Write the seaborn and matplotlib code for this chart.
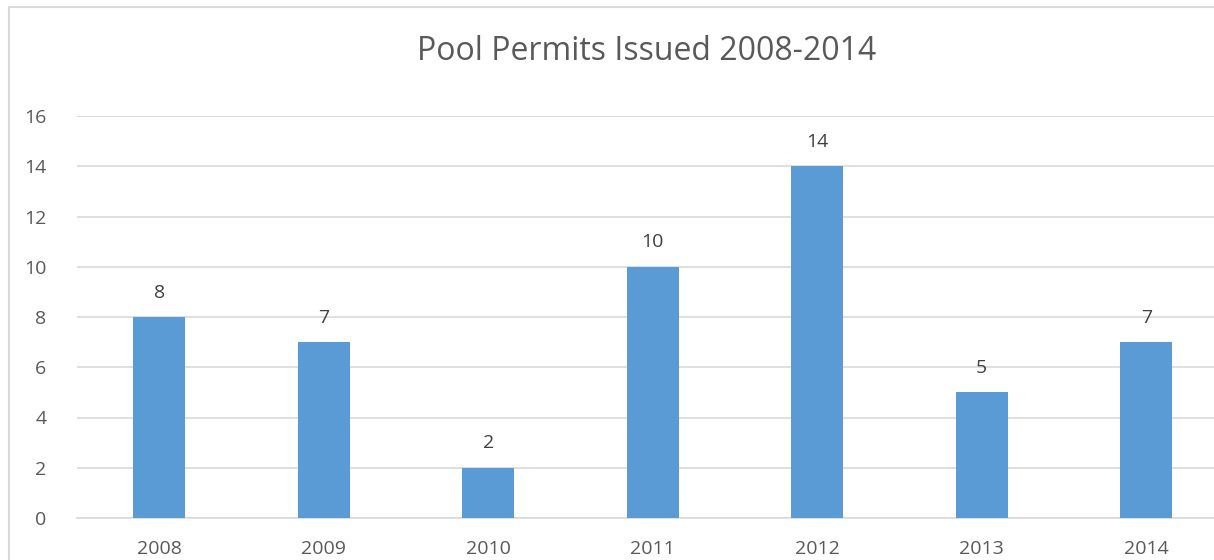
import matplotlib
matplotlib.use("Agg")
import matplotlib.pyplot as plt
import seaborn as sns
import pandas as pd
from matplotlib.patches import Rectangle

years = ["2008", "2009", "2010", "2011", "2012", "2013", "2014"]
permits = [8, 7, 2, 10, 14, 5, 7]

df = pd.DataFrame({"year": years, "permits": permits})

sns.set_theme(style="white")
plt.rcParams['font.family'] = ['Open Sans', 'DejaVu Sans']

fig = plt.figure(figsize=(12.14, 5.6), dpi=100)
ax = fig.add_axes([77 / 1214, 42 / 560, 1151.5 / 1214, 402 / 560])

sns.barplot(data=df, x="year", y="permits", color="#5B9BD5", width=0.316,
            saturation=1, linewidth=0, ax=ax, zorder=3)

ax.set_ylim(0, 16)
ax.set_yticks(range(0, 17, 2))
ax.grid(axis="y", color="#D9D9D9", linewidth=1.2, zorder=0)
for s in ["top", "right", "left"]:
    ax.spines[s].set_visible(False)
ax.spines["bottom"].set_color("#D9D9D9")
ax.spines["bottom"].set_linewidth(1.2)
ax.tick_params(axis="both", length=0, labelsize=14, labelcolor="#595959")
ax.tick_params(axis="y", pad=22)
ax.tick_params(axis="x", pad=16)
ax.set_xlabel("")
ax.set_ylabel("")

for c in ax.containers:
    ax.bar_label(c, padding=11, fontsize=14, color="#404040")

fig.text(647 / 1214, 1 - 52 / 560, "Pool Permits Issued 2008-2014", ha="center",
         va="center", fontsize=23, color="#595959")

fig.patches.append(Rectangle((9 / 1214, -0.1), 1.2, 1.1 - 7 / 560,
                             transform=fig.transFigure, fill=False,
                             edgecolor="#D9D9D9", linewidth=1.5))

fig.savefig("out.png", dpi=100, facecolor="white")
